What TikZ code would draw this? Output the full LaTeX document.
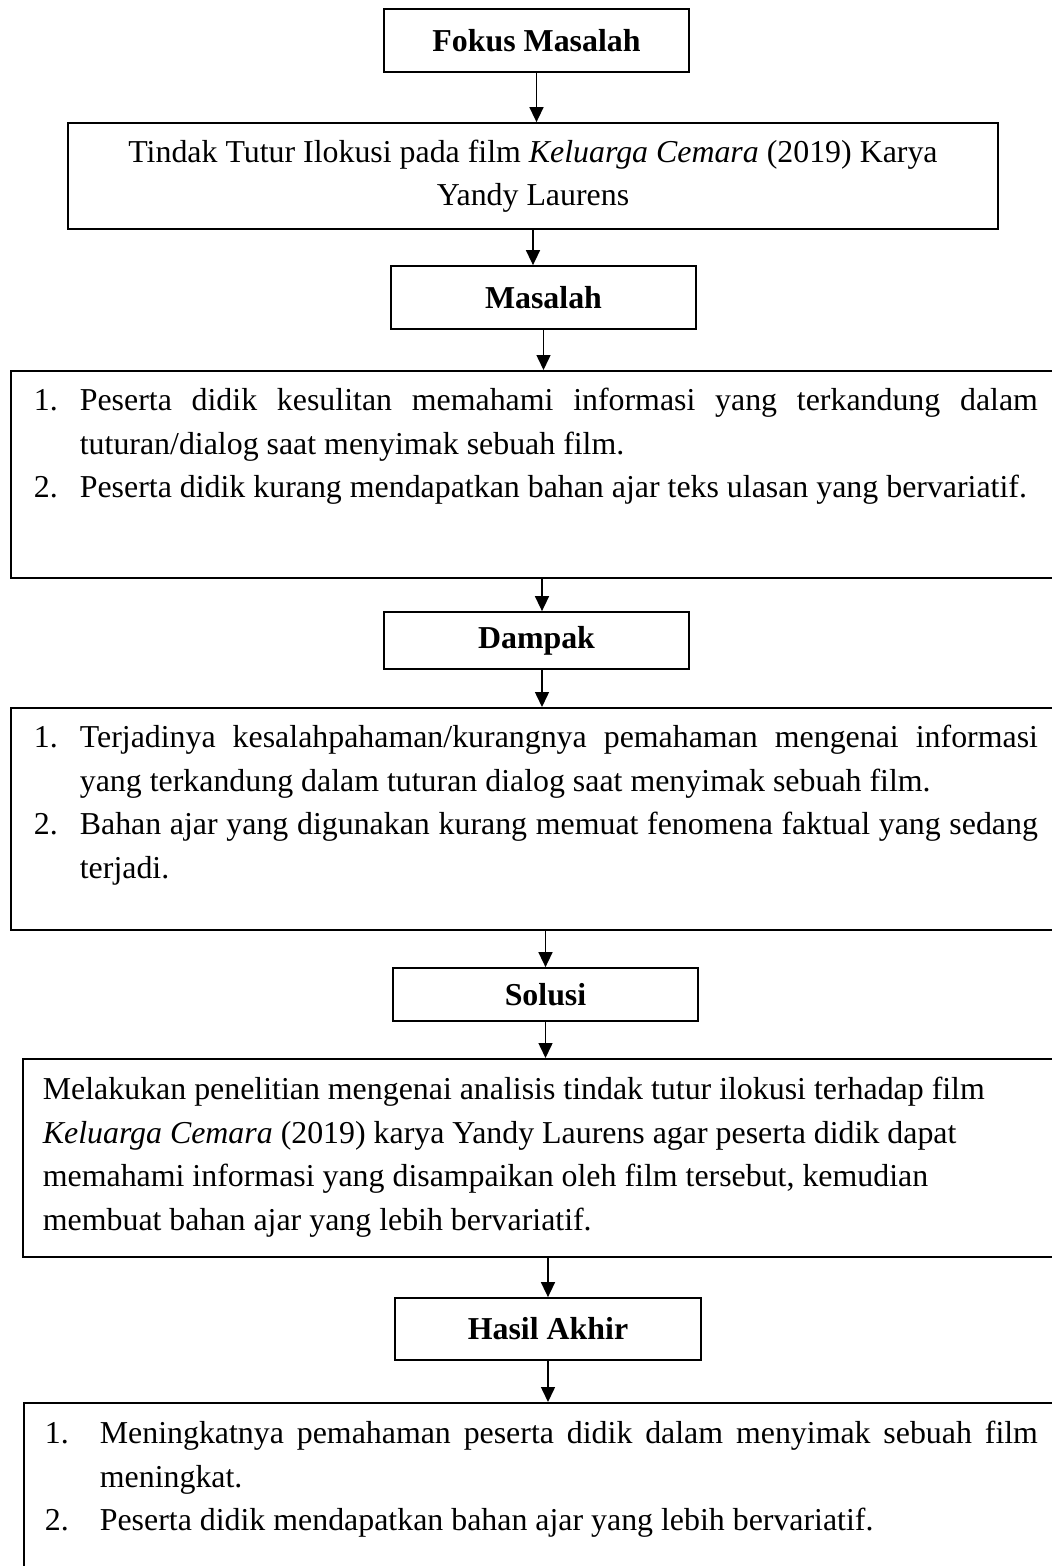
\documentclass[tikz,border=0pt]{standalone}
\usepackage{fontspec}
\setmainfont{Liberation Serif}
\usetikzlibrary{arrows.meta}

\newcommand{\numitem}[3]{\noindent\hangindent=#1\hangafter=1\makebox[#1][l]{#2}#3}
\newcommand{\txtfont}{\fontsize{12.75}{17.4}\selectfont}

\tikzset{
  headbox/.style={draw, line width=0.7pt, minimum width=122pt, inner sep=0pt, font=\bfseries\txtfont},
  listbox/.style={draw, line width=0.7pt, anchor=north west, inner ysep=0pt, font=\txtfont},
  arr/.style={line width=0.6pt, -{Triangle[length=6pt,width=5.6pt]}}
}

\begin{document}
\begin{tikzpicture}[x=0.4pt, y=-0.4pt]
  \useasboundingbox (0,0) rectangle (1052,1566);
  \clip (0,0) rectangle (1052,1566);

  % fokus masalah
  \node[headbox, minimum height=25.2pt] (fokus) at (536.5,40.5) {Fokus Masalah};
  \node[draw, line width=0.7pt, minimum width=372pt, minimum height=42.4pt, align=center, font=\txtfont] (tindak) at (533,176)
    {Tindak Tutur Ilokusi pada film \textit{Keluarga Cemara} (2019) Karya\\Yandy Laurens};

  % masalah
  \node[headbox, minimum height=25.2pt] (masalah) at (543.5,297.5) {Masalah};
  \node[listbox, inner xsep=9.2pt, text height=16pt, text depth=66.8pt] (isimasalah) at (10,370) {\parbox[t]{401.6pt}{%
    \numitem{18.4pt}{1.}{Peserta didik kesulitan memahami informasi yang terkandung dalam\linebreak tuturan/dialog saat menyimak sebuah film.}\par
    \numitem{18.4pt}{2.}{Peserta didik kurang mendapatkan bahan ajar teks ulasan yang bervariatif.}}};

  % dampak
  \node[headbox, minimum height=22.8pt] (dampak) at (536.5,640.5) {Dampak};
  \node[listbox, inner xsep=9.2pt, text height=16pt, text depth=72.8pt] (isidampak) at (10,707) {\parbox[t]{401.6pt}{%
    \numitem{18.4pt}{1.}{Terjadinya kesalahpahaman/kurangnya pemahaman mengenai informasi\linebreak yang terkandung dalam tuturan dialog saat menyimak sebuah film.}\par
    \numitem{18.4pt}{2.}{Bahan ajar yang digunakan kurang memuat fenomena faktual yang sedang\linebreak terjadi.}}};

  % solusi
  \node[headbox, minimum height=21.2pt] (solusi) at (545.5,994.5) {Solusi};
  \node[listbox, inner xsep=8pt, text height=16.4pt, text depth=62.8pt] (isisolusi) at (22,1058) {\parbox[t]{399.2pt}{\raggedright
    Melakukan penelitian mengenai analisis tindak tutur ilokusi terhadap film\\
    \textit{Keluarga Cemara} (2019) karya Yandy Laurens agar peserta didik dapat\\
    memahami informasi yang disampaikan oleh film tersebut, kemudian\\
    membuat bahan ajar yang lebih bervariatif.}};

  % hasil akhir
  \node[headbox, minimum width=122.4pt, minimum height=24.8pt] (hasil) at (548,1329) {Hasil Akhir};
  \node[listbox, inner xsep=8.4pt, text height=16.4pt, text depth=80pt] (isihasil) at (23,1402) {\parbox[t]{397.2pt}{%
    \numitem{22pt}{1.}{Meningkatnya pemahaman peserta didik dalam menyimak sebuah film\linebreak meningkat.}\par
    \numitem{22pt}{2.}{Peserta didik mendapatkan bahan ajar yang lebih bervariatif.}}};

  % panah
  \draw[arr] (fokus.south) -- (fokus.south |- tindak.north);
  \draw[arr] (tindak.south) -- (tindak.south |- masalah.north);
  \draw[arr] (masalah.south) -- (masalah.south |- isimasalah.north);
  \draw[arr] ([xshift=2.2pt]dampak.north |- isimasalah.south) -- ([xshift=2.2pt]dampak.north);
  \draw[arr] ([xshift=2.2pt]dampak.south) -- ([xshift=2.2pt]dampak.south |- isidampak.north);
  \draw[arr] (solusi.north |- isidampak.south) -- (solusi.north);
  \draw[arr] (solusi.south) -- (solusi.south |- isisolusi.north);
  \draw[arr] (hasil.north |- isisolusi.south) -- (hasil.north);
  \draw[arr] (hasil.south) -- (hasil.south |- isihasil.north);
\end{tikzpicture}
\end{document}
